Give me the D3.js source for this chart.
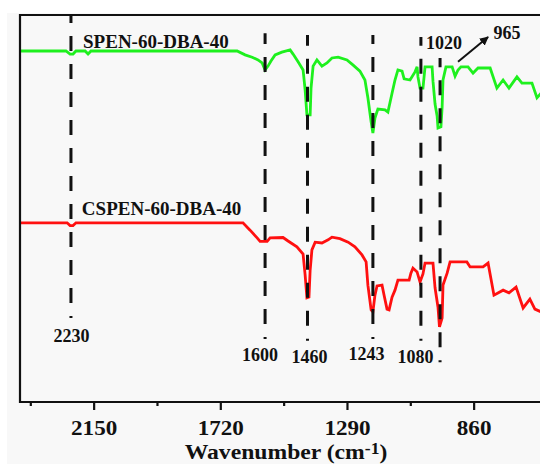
<!DOCTYPE html>
<html>
<head>
<meta charset="utf-8">
<script src="https://cdn.jsdelivr.net/npm/d3@7"></script>
<style>
  html, body { margin: 0; padding: 0; background: #ffffff; }
  svg { display: block; }
  text { font-family: "Liberation Serif", "Times New Roman", serif; font-weight: bold; fill: #111; }
</style>
</head>
<body>
<svg id="chart" width="540" height="464"></svg>
<script>
// ---- data ----
const spenW = [2400,2244,2230,2220,2210,2179,2169,2159,1663,1636,1612,1592,1578,1568,1558,1548,1534,1511,1483,1473,1456,1439,1432,1426,1415,1412,1405,1392,1375,1358,1341,1320,1290,1270,1246,1229,1219,1208,1202,1195,1185,1161,1151,1137,1127,1117,1103,1096,1076,1059,1052,1049,1042,1032,1025,1001,998,991,984,981,971,967,964,954,933,923,913,903,879,862,845,804,781,760,740,713,696,662,645,631,607];
const spenT = [90.7,90.7,89.9,89.9,90.7,90.7,89.9,90.7,90.7,89.7,89.1,88.4,87.6,85.8,86.8,88.1,89.7,90.4,91.0,89.9,87.9,85.8,80.6,74.2,74.2,81.1,86.8,88.4,86.8,87.6,88.9,89.1,88.4,87.1,85.5,83.2,78.6,72.4,69.5,73.4,75.7,75.5,74.9,79.8,83.2,85.8,85.5,83.5,83.2,85.3,86.6,84.0,81.1,81.1,86.6,86.6,82.9,77.0,73.9,70.8,71.1,76.2,83.2,86.6,86.6,84.2,85.8,86.6,86.6,85.0,86.3,86.3,81.1,83.2,81.1,84.0,82.4,82.4,78.6,79.8,79.3];

const cspenW = [2400,2240,2230,2220,2210,1643,1619,1595,1585,1561,1551,1507,1490,1460,1439,1432,1426,1419,1415,1409,1398,1375,1354,1341,1314,1286,1263,1239,1225,1219,1208,1202,1195,1188,1171,1164,1154,1147,1137,1127,1117,1079,1073,1066,1052,1042,1032,1025,998,991,981,976,967,964,950,940,883,872,828,811,791,760,740,716,692,669,652,631,607];
const cspenT = [46.3,46.3,45.6,45.6,46.3,46.3,44.4,42.4,41.5,41.5,42.4,42.5,41.6,40.1,38.2,32.8,26.9,27.1,34.1,39.3,41.3,41.1,41.9,42.6,42.2,41.3,40.1,38.0,36.2,30.2,23.8,23.3,27.6,30.0,30.2,27.6,24.0,23.8,27.1,28.9,31.5,31.5,33.3,34.6,33.6,31.0,33.1,35.9,35.9,29.5,24.5,19.4,21.7,30.2,33.3,36.2,36.2,34.9,34.9,35.9,27.6,28.9,28.2,29.7,24.3,26.6,24.0,23.3,23.8];

const seriesNames = ["SPEN-60-DBA-40", "CSPEN-60-DBA-40"];
const seriesLabelW = [2186, 2190];
const seriesLabelT = [91.5, 48.2];

const majorTicks = [2150, 1720, 1290, 860];
const minorTicks = [2365, 1935, 1505, 1075];

// dashed reference lines
const markerW = [2227, 1568, 1424, 1202, 1039, 974];
const markerTop = [100, 95.3, 94.8, 94.8, 94.3, 88.9];
const markerBottom = [21.7, 16.3, 15.8, 16.3, 15.8, 10.3];

// peak labels
const peakLabels = ["2230", "1600", "1460", "1243", "1080", "1020", "965"];
const peakLabelW = [2225, 1585, 1417, 1224, 1057, 961, 747];
const peakLabelT = [15.6, 10.5, 10.1, 10.9, 10.2, 91.1, 93.9];

// arrow pointing to "965"
const arrowW = [913, 811];
const arrowT = [87.9, 94.3];

// ---- layout ----
const svg = d3.select("#chart");
const plotLeft = 20, plotTop = 15, plotBottom = 402;
const x = d3.scaleLinear().domain([2400, 600]).range([plotLeft, plotLeft + 1800 * 0.29457]);
const y = d3.scaleLinear().domain([0, 100]).range([plotBottom, plotTop]);
const plotRight = x(600);

// background
svg.append("rect").attr("x", 7).attr("y", 13).attr("width", 540).attr("height", 464)
  .attr("fill", "#f8f8f8");

svg.append("defs").append("clipPath").attr("id", "clip")
  .append("rect").attr("x", plotLeft).attr("y", plotTop)
  .attr("width", plotRight - plotLeft).attr("height", plotBottom - plotTop);

// curves
const line = d3.line().x(d => x(d[0])).y(d => y(d[1]));
const curves = [
  { w: spenW, t: spenT, color: "#1ef01e" },
  { w: cspenW, t: cspenT, color: "#ff1010" }
];
const gCurves = svg.append("g").attr("clip-path", "url(#clip)");
curves.forEach(c => {
  gCurves.append("path")
    .datum(c.w.map((w, i) => [w, c.t[i]]))
    .attr("d", line)
    .attr("fill", "none")
    .attr("stroke", c.color)
    .attr("stroke-width", 2.8)
    .attr("stroke-linejoin", "miter");
});

// dashed lines (drawn bottom -> top, starting with a short dot)
markerW.forEach((w, i) => {
  svg.append("line")
    .attr("x1", x(w)).attr("x2", x(w))
    .attr("y1", y(markerBottom[i])).attr("y2", y(markerTop[i]))
    .attr("stroke", "#111")
    .attr("stroke-width", 3)
    .attr("stroke-dasharray", "15,13")
    .attr("stroke-dashoffset", 13);
});

// frame
svg.append("path")
  .attr("d", `M${plotRight},${plotTop}H${plotLeft}V${plotBottom}H${plotRight}`)
  .attr("fill", "none").attr("stroke", "#111").attr("stroke-width", 2.2);

// x axis
const xAxis = d3.axisBottom(x).tickValues(majorTicks).tickSize(8).tickFormat(d => d);
const gx = svg.append("g").attr("transform", `translate(0,${plotBottom})`).call(xAxis);
gx.select(".domain").remove();
gx.selectAll(".tick line").attr("stroke", "#111").attr("stroke-width", 2.2);
gx.selectAll(".tick text")
  .attr("y", 33).attr("dy", 0)
  .attr("font-size", 21)
  .attr("transform", "scale(1.1,1)")
  .style("font-family", '"Liberation Serif", serif').style("font-weight", "bold").attr("fill", "#111");

const xMinor = d3.axisBottom(x).tickValues(minorTicks).tickSize(4).tickFormat("");
const gxm = svg.append("g").attr("transform", `translate(0,${plotBottom})`).call(xMinor);
gxm.select(".domain").remove();
gxm.selectAll(".tick line").attr("stroke", "#111").attr("stroke-width", 2.2);

// axis title
const title = svg.append("text")
  .attr("text-anchor", "middle")
  .attr("font-size", 21.5)
  .attr("transform", `translate(286,458.5) scale(1.1,1)`);
title.append("tspan").text("Wavenumber (cm");
title.append("tspan").attr("font-size", 16).attr("dy", -5).text("-1");
title.append("tspan").attr("dy", 5).text(")");

// series labels
seriesNames.forEach((n, i) => {
  svg.append("text")
    .attr("x", x(seriesLabelW[i])).attr("y", y(seriesLabelT[i]))
    .attr("font-size", 19)
    .text(n);
});

// peak labels
peakLabels.forEach((p, i) => {
  svg.append("text")
    .attr("x", x(peakLabelW[i])).attr("y", y(peakLabelT[i]))
    .attr("text-anchor", "middle")
    .attr("font-size", 18)
    .text(p);
});

// arrow
svg.append("defs").append("marker")
  .attr("id", "arrowhead").attr("viewBox", "0 0 10 10")
  .attr("refX", 9).attr("refY", 5)
  .attr("markerWidth", 4.5).attr("markerHeight", 4.5)
  .attr("markerUnits", "strokeWidth")
  .attr("orient", "auto")
  .append("path").attr("d", "M0,0L10,5L0,10z").attr("fill", "#111");
svg.append("line")
  .attr("x1", x(arrowW[0])).attr("y1", y(arrowT[0]))
  .attr("x2", x(arrowW[1])).attr("y2", y(arrowT[1]))
  .attr("stroke", "#111").attr("stroke-width", 2)
  .attr("marker-end", "url(#arrowhead)");
</script>
</body>
</html>
